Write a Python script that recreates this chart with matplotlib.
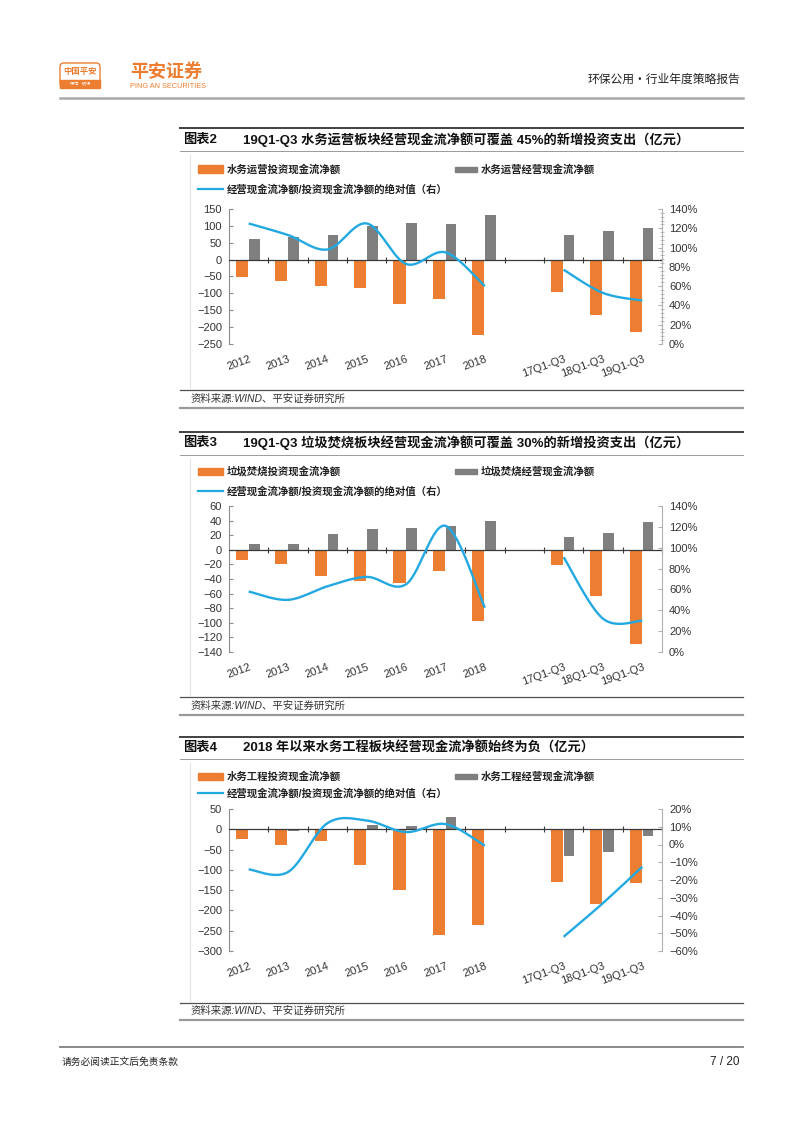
import numpy as np
import matplotlib
matplotlib.use('Agg')
import matplotlib.pyplot as plt
from matplotlib.patches import Rectangle, FancyBboxPatch
from matplotlib.lines import Line2D
from matplotlib.ticker import MultipleLocator, FuncFormatter, AutoMinorLocator

plt.rcParams['font.family'] = ['Liberation Sans', 'Noto Sans CJK SC', 'DejaVu Sans']
plt.rcParams['axes.unicode_minus'] = True

# ---------------- data ----------------
categories = ['2012', '2013', '2014', '2015', '2016', '2017', '2018', '',
              '17Q1-Q3', '18Q1-Q3', '19Q1-Q3']

water_invest = [-52, -62, -77, -83, -132, -116, -224, None, -97, -163, -214]
water_oper = [60, 68, 74, 100, 108, 107, 133, None, 74, 85, 95]
water_ratio = [125, 113, 98, 125, 83, 95, 60, None, 77, 53, 45]

waste_invest = [-14, -19, -36, -43, -46, -29, -97, None, -21, -63, -129]
waste_oper = [7.5, 8.4, 21.6, 29, 30, 33, 40, None, 17, 22.5, 38.5]
waste_ratio = [58, 50, 63, 72, 65, 121, 42.5, None, 91, 32, 30]

eng_invest = [-23, -38, -28, -87, -149, -260, -235, None, -130, -185, -133]
eng_oper = [-2, -4, 1, 10, 8, 30, -1, None, -66, -57, -16]
eng_ratio = [-14, -15.5, 12, 13.5, 7, 11.5, -0.7, None, -52, -33, -12.5]

legend_water = ['水务运营投资现金流净额', '水务运营经营现金流净额']
legend_waste = ['垃圾焚烧投资现金流净额', '垃圾焚烧经营现金流净额']
legend_eng = ['水务工程投资现金流净额', '水务工程经营现金流净额']
legend_line = '经营现金流净额/投资现金流净额的绝对值（右）'

title2 = ('图表2', '19Q1-Q3 水务运营板块经营现金流净额可覆盖 45%的新增投资支出（亿元）')
title3 = ('图表3', '19Q1-Q3 垃圾焚烧板块经营现金流净额可覆盖 30%的新增投资支出（亿元）')
title4 = ('图表4', '2018 年以来水务工程板块经营现金流净额始终为负（亿元）')
source_text = '资料来源:WIND、平安证券研究所'

ORANGE = '#ED7D31'
GRAY = '#7F7F7F'
BLUE = '#22A9E1'
TXT = '#333333'

W, H = 802, 1133
fig = plt.figure(figsize=(W / 100, H / 100), dpi=100)


def fx(x):
    return x / W


def fy(y):
    return 1 - y / H


def hline(y, x0, x1, color, lw):
    fig.add_artist(Line2D([fx(x0), fx(x1)], [fy(y), fy(y)], color=color, lw=lw,
                          transform=fig.transFigure))


def vline(x, y0, y1, color, lw):
    fig.add_artist(Line2D([fx(x), fx(x)], [fy(y0), fy(y1)], color=color, lw=lw,
                          transform=fig.transFigure))


def smooth(xs, ys, n=30):
    xs = np.asarray(xs, float)
    ys = np.asarray(ys, float)
    if len(xs) < 3:
        return xs, ys
    P = np.column_stack([xs, ys])
    P = np.vstack([P[0], P, P[-1]])
    out = []
    t = np.linspace(0, 1, n, endpoint=False)[:, None]
    for i in range(1, len(P) - 2):
        p0, p1, p2, p3 = P[i - 1], P[i], P[i + 1], P[i + 2]
        c1 = p1 + (p2 - p0) / 6
        c2 = p2 - (p3 - p1) / 6
        seg = ((1 - t) ** 3) * p1 + 3 * ((1 - t) ** 2) * t * c1 + 3 * (1 - t) * t ** 2 * c2 + t ** 3 * p2
        out.append(seg)
    out.append(P[-2][None, :])
    out = np.vstack(out)
    return out[:, 0], out[:, 1]


def runs(vals):
    groups, cur = [], []
    for i, v in enumerate(vals):
        if v is None:
            if cur:
                groups.append(cur)
            cur = []
        else:
            cur.append(i)
    if cur:
        groups.append(cur)
    return groups


def draw_chart(title, legends, top_line, title_y, under_line, leg_y1, leg_y2,
               plot_top, plot_bot, src_l1, src_y, src_l2,
               inv, oper, ratio, ylim, ystep, rlim, rstep, minor_right):
    # title block
    hline(top_line, 180, 743, '#404040', 1.4)
    fig.text(fx(183), fy(title_y), title[0], fontsize=9.5, fontweight='bold',
             color='#111111', va='center', ha='left')
    fig.text(fx(243), fy(title_y), title[1], fontsize=9.5, fontweight='bold',
             color='#111111', va='center', ha='left')
    hline(under_line, 180, 743, '#9a9a9a', 0.7)
    # faint chart frame
    vline(190, under_line + 4, src_l1 - 2, '#e3e3e3', 0.8)
    # legend
    fig.add_artist(Rectangle((fx(198), fy(leg_y1 + 3.5)), fx(25), 7 / H, color=ORANGE,
                             transform=fig.transFigure))
    fig.text(fx(227), fy(leg_y1), legends[0], fontsize=7.5, color='#222222',
             va='center', ha='left', fontweight='bold')
    fig.add_artist(Rectangle((fx(455), fy(leg_y1 + 2.5)), fx(22), 5 / H, color=GRAY,
                             transform=fig.transFigure))
    fig.text(fx(481), fy(leg_y1), legends[1], fontsize=7.5, color='#222222',
             va='center', ha='left', fontweight='bold')
    fig.add_artist(Line2D([fx(198), fx(223)], [fy(leg_y2), fy(leg_y2)], color=BLUE,
                          lw=1.6, transform=fig.transFigure))
    fig.text(fx(227), fy(leg_y2), legend_line, fontsize=7.5, color='#222222',
             va='center', ha='left', fontweight='bold')

    # plot
    ax = fig.add_axes([fx(229), fy(plot_bot), fx(662 - 229), (plot_bot - plot_top) / H])
    n = len(categories)
    centers = np.arange(n) + 0.5
    xi = [i for i in range(n) if inv[i] is not None]
    ax.bar(centers[xi] - 0.17, [inv[i] for i in xi], width=0.31, color=ORANGE, zorder=2)
    ax.bar(centers[xi] + 0.14, [oper[i] for i in xi], width=0.27, color=GRAY, zorder=2)
    ax.set_xlim(0, n)
    ax.set_ylim(*ylim)
    ax.yaxis.set_major_locator(MultipleLocator(ystep))
    ax.axhline(0, color='#3a3a3a', lw=0.9, zorder=3)
    for s in ['top', 'right', 'bottom']:
        ax.spines[s].set_visible(False)
    ax.spines['left'].set_color('#8c8c8c')
    ax.spines['left'].set_linewidth(0.8)
    ax.tick_params(axis='y', direction='in', length=3, color='#8c8c8c',
                   labelsize=8, labelcolor=TXT, pad=5)
    ax.set_xticks(centers)
    ax.set_xticklabels(categories, rotation=20, ha='right', rotation_mode='anchor',
                       fontsize=8, color=TXT)
    ax.tick_params(axis='x', length=0, pad=7)
    ax.patch.set_alpha(0)

    # boundary ticks on the zero line
    zfrac = (0 - ylim[0]) / (ylim[1] - ylim[0])
    sec = ax.secondary_xaxis(zfrac)
    sec.set_xticks(np.arange(1, n + 1), labels=[''] * n)
    sec.tick_params(axis='x', direction='inout', length=4, color='#3a3a3a', width=0.8)
    for s in sec.spines.values():
        s.set_visible(False)

    # right axis and line
    ax2 = ax.twinx()
    ax2.set_ylim(*rlim)
    ax2.yaxis.set_major_locator(MultipleLocator(rstep))
    ax2.yaxis.set_major_formatter(FuncFormatter(
        lambda v, p: ('\u2212' if v < -1e-9 else '') + f'{abs(v):.0f}%'))
    if minor_right:
        ax2.yaxis.set_minor_locator(AutoMinorLocator(5))
        ax2.tick_params(axis='y', which='minor', direction='inout', length=3,
                        color='#b0b0b0', width=0.6)
    for s in ['top', 'left', 'bottom']:
        ax2.spines[s].set_visible(False)
    ax2.spines['right'].set_color('#b0b0b0')
    ax2.spines['right'].set_linewidth(0.8)
    ax2.tick_params(axis='y', which='major', direction='in', length=3, color='#b0b0b0',
                    labelsize=8, labelcolor=TXT, pad=5)
    for grp in runs(ratio):
        sx, sy = smooth(centers[grp], [ratio[i] for i in grp])
        ax2.plot(sx, sy, color=BLUE, lw=1.7, solid_capstyle='butt', zorder=5)

    # source block
    hline(src_l1, 180, 743, '#505050', 0.9)
    fig.text(fx(191), fy(src_y), source_text, fontsize=7.5, color='#333333',
             va='center', ha='left', style='italic')
    hline(src_l2, 180, 743, '#9a9a9a', 1.6)


# ---------------- header ----------------
logo = FancyBboxPatch((fx(60), fy(88)), fx(40), 25 / H,
                      boxstyle='round,pad=0,rounding_size=0.004',
                      fc='white', ec=ORANGE, lw=1.0, transform=fig.transFigure)
fig.add_artist(logo)
fig.add_artist(Rectangle((fx(60), fy(88)), fx(40), 8 / H, color=ORANGE,
                         transform=fig.transFigure))
fig.text(fx(80), fy(72), '中国平安', fontsize=6, color=ORANGE, fontweight='bold',
         ha='center', va='center')
fig.text(fx(80), fy(84), '保险 · 银行', fontsize=3, color='white', ha='center', va='center')
fig.text(fx(130), fy(72), '平安证券', fontsize=13, color=ORANGE, fontweight='bold',
         ha='left', va='center')
fig.text(fx(130), fy(86.5), 'PING AN SECURITIES', fontsize=5.3, color=ORANGE,
         ha='left', va='center')
fig.text(fx(740), fy(80), '环保公用・行业年度策略报告', fontsize=8.5, color='#222222',
         ha='right', va='center')
hline(98, 60, 743, '#a8a8a8', 1.8)

# ---------------- charts ----------------
draw_chart(title2, legend_water, 128, 140, 151, 169, 189, 209, 344, 390, 399, 408,
           water_invest, water_oper, water_ratio, (-250, 150), 50, (0, 140), 20, True)
draw_chart(title3, legend_waste, 432, 443, 455, 471, 491, 506, 652, 697, 706, 715,
           waste_invest, waste_oper, waste_ratio, (-140, 60), 20, (0, 140), 20, False)
draw_chart(title4, legend_eng, 737, 748, 759, 776, 793, 809, 951, 1003, 1011, 1020,
           eng_invest, eng_oper, eng_ratio, (-300, 50), 50, (-60, 20), 10, False)

# ---------------- footer ----------------
hline(1047, 60, 743, '#8a8a8a', 1.4)
fig.text(fx(62), fy(1062), '请务必阅读正文后免责条款', fontsize=7, color='#222222',
         ha='left', va='center')
fig.text(fx(740), fy(1062), '7 / 20', fontsize=8.5, color='#222222', ha='right', va='center')

fig.savefig('out.png', dpi=100, facecolor='white')
